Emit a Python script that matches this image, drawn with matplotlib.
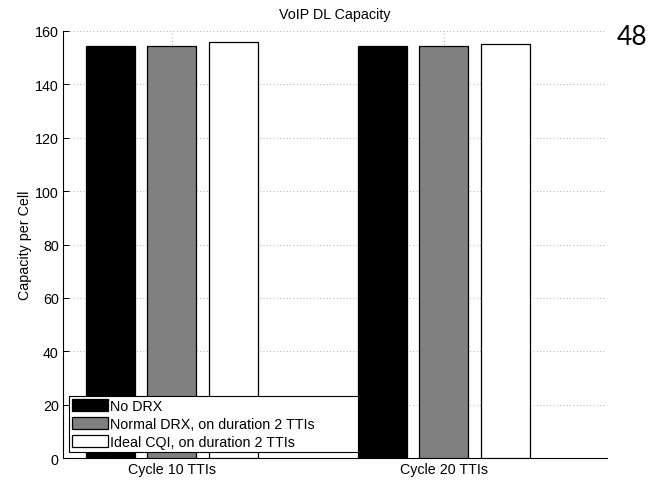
import numpy as np
import matplotlib
matplotlib.use("Agg")
import matplotlib.pyplot as plt

plt.rcParams['font.family'] = ['Liberation Sans', 'DejaVu Sans']

# data
groups = ['Cycle 10 TTIs', 'Cycle 20 TTIs']
series = ['No DRX', 'Normal DRX, on duration 2 TTIs', 'Ideal CQI, on duration 2 TTIs']
no_drx = [154.2, 154.2]
normal_drx = [154.4, 154.4]
ideal_cqi = [156.0, 155.1]
colors = ['black', '#808080', 'white']
yticks = [0, 20, 40, 60, 80, 100, 120, 140, 160]

fs = 10.3

fig = plt.figure(figsize=(6.6, 4.81), dpi=100)
ax = fig.add_axes([0.0955, 0.0457, 0.8245, 0.8878])

x = np.arange(1, len(groups) + 1)
step = 0.225
width = 0.18
for k, vals in enumerate([no_drx, normal_drx, ideal_cqi]):
    ax.bar(x + (k - 1) * step, vals, width, color=colors[k], edgecolor='black',
           linewidth=0.9, label=series[k], zorder=3)

ax.set_xlim(0.6, 2.6)
ax.set_ylim(0, 160)
ax.set_xticks(x)
ax.set_xticklabels(groups)
ax.set_yticks(yticks)
ax.tick_params(direction='in', labelsize=fs, length=4, width=0.7, pad=3)
ax.grid(True, linestyle=(0, (1, 3)), color='#999999', linewidth=0.6, zorder=0)
ax.set_axisbelow(True)
for s in ['top', 'right']:
    ax.spines[s].set_visible(False)
for s in ['left', 'bottom']:
    ax.spines[s].set_linewidth(0.8)

ax.set_title('VoIP DL Capacity', fontsize=fs, pad=9)
ax.set_ylabel('Capacity per Cell', fontsize=fs, labelpad=2)

# matlab-style legend: wide box with extra room on the right
leg = ax.legend(loc='lower left', bbox_to_anchor=(0.011, 0.014, 0.531, 0.2),
                mode='expand', fontsize=fs,
                fancybox=False, framealpha=1, edgecolor='black',
                handlelength=2.5, handleheight=0.9, handletextpad=0.15,
                borderpad=0.2, labelspacing=0.3, borderaxespad=0)
leg.get_frame().set_linewidth(0.8)

fig.text(0.934, 0.922, '48', fontsize=19, ha='left', va='center',
         family=['Lato', 'DejaVu Sans'])

fig.savefig('out.png', dpi=100)
